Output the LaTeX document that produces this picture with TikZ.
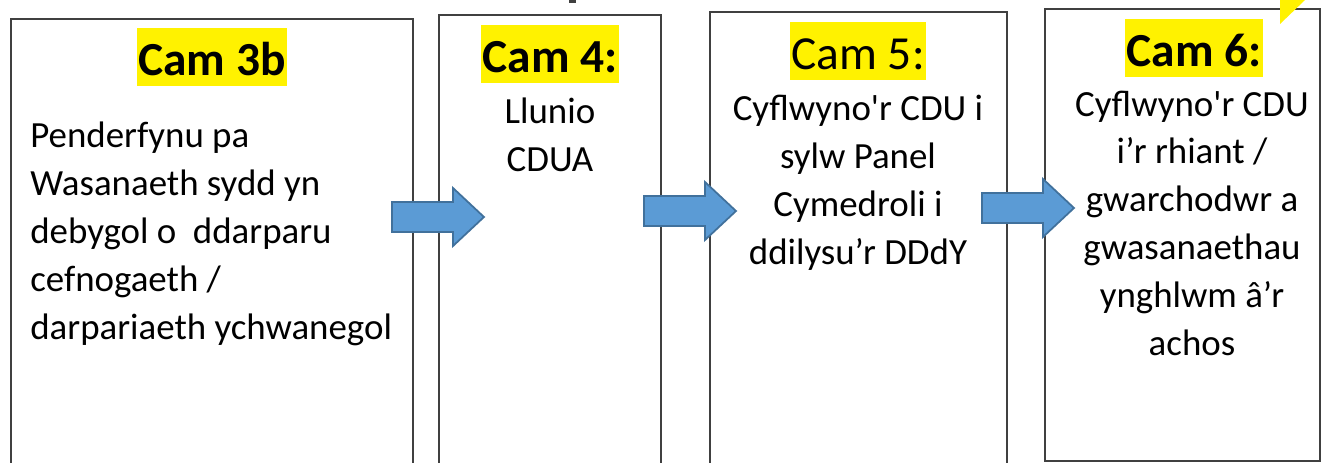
\documentclass[tikz,border=0pt]{standalone}
\usepackage{fontspec}
\setmainfont{Carlito}
\usetikzlibrary{positioning}

\definecolor{arrowfill}{HTML}{5B9BD5}
\definecolor{arrowline}{HTML}{41719C}
\definecolor{boxline}{HTML}{404040}

% block arrow: left end x, centre y
\newcommand\blockarrow[2]{%
  \draw[arrowbox] (#1,#2-15) -- ++(61,0) -- ++(0,-14) -- ++(31,29)
    -- ++(-31,29) -- ++(0,-14) -- ++(-61,0) -- cycle;}

\begin{document}
\begin{tikzpicture}[x=0.02cm, y=-0.02cm,
  stepbox/.style={draw=boxline, line width=0.9pt},
  arrowbox/.style={fill=arrowfill, draw=arrowline, line width=1pt},
  camlabel/.style={fill=yellow, inner xsep=1pt, inner ysep=0pt,
    text height=27pt, text depth=6pt, anchor=north,
    font=\fontsize{27}{32}\selectfont\bfseries},
  steptext/.style={inner sep=0pt, align=center,
    font=\fontsize{21}{27.2}\selectfont}]
\useasboundingbox (0,0) rectangle (1326,463);

% boxes
\draw[stepbox] (11,19) rectangle (413,480);
\draw[stepbox] (439,15) rectangle (661,480);
\draw[stepbox] (710,12) rectangle (1007,480);
\draw[stepbox] (1045,9) rectangle (1320,461);

% bits at the top edge
\fill[boxline] (569,0) rectangle (576,3);
\fill[yellow] (1280,0) -- (1305,0) -- (1280,24) -- cycle;

% headings
\node[camlabel] (cam3b) at (212,28) {Cam 3b};
\node[camlabel] (cam4) at (550,25) {Cam 4:};
\node[camlabel, font=\fontsize{27}{32}\selectfont] (cam5) at (858,22) {Cam 5:};
\node[camlabel] (cam6) at (1194,19) {Cam 6:};

% texts (base = last line)
\node[steptext, align=left, anchor=base west] (text3b) at (30,339)
  {Penderfynu pa\\Wasanaeth sydd yn\\debygol o\ \ ddarparu\\cefnogaeth /\\darpariaeth ychwanegol};
\node[steptext, anchor=base] (text4) at (550,171) {Llunio\\CDUA};
\node[steptext, anchor=base] (text5) at (858,264)
  {Cyflwyno\textquotesingle r CDU i\\sylw Panel\\Cymedroli i\\ddilysu’r DDdY};
\node[steptext, anchor=base] (text6) at (1192,355)
  {Cyflwyno\textquotesingle r CDU\\i’r rhiant /\\gwarchodwr a\\gwasanaethau\\ynghlwm â’r\\achos};

% arrows
\blockarrow{392}{217}
\blockarrow{644}{211}
\blockarrow{982}{208}
\end{tikzpicture}
\end{document}
